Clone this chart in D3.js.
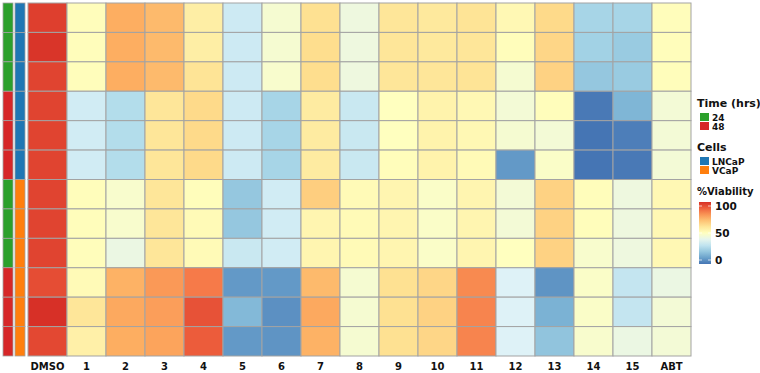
<!DOCTYPE html>
<html>
<head>
<meta charset="utf-8">
<script src="https://cdn.jsdelivr.net/npm/d3@7"></script>
<style>
  body { margin: 0; background: #fff; }
  svg { display: block; font-family: "DejaVu Sans", Verdana, sans-serif; }
</style>
</head>
<body>
<svg id="chart" width="760" height="373"></svg>
<script>
// Heatmap of %viability: rows = replicate wells (time x cell line), columns = treatments.

const columns = ["DMSO", "1", "2", "3", "4", "5", "6", "7", "8", "9", "10", "11", "12", "13", "14", "15", "ABT"];

// row annotations, top to bottom
const rowTime = ["24", "24", "24", "48", "48", "48", "24", "24", "24", "48", "48", "48"];
const rowCells = ["LNCaP", "LNCaP", "LNCaP", "LNCaP", "LNCaP", "LNCaP", "VCaP", "VCaP", "VCaP", "VCaP", "VCaP", "VCaP"];

// %viability per row, in column order
const lncap24 = [
  [97, 51, 75, 72, 57, 33, 46, 62, 43, 60, 59, 61, 53, 64, 24, 24, 51],
  [99, 51, 75, 72, 57, 33, 46, 63, 43, 60, 59, 60, 51, 65, 23, 21, 51],
  [96, 51, 75, 72, 61, 33, 47, 63, 43, 60, 60, 61, 46, 66, 20, 21, 51],
];
const lncap48 = [
  [96, 34, 27, 60, 64, 33, 24, 58, 32, 50, 55, 53, 45, 51, 1, 15, 45],
  [96, 34, 27, 60, 64, 33, 24, 58, 32, 50, 55, 53, 46, 45, 0, 2, 45],
  [96, 34, 27, 60, 64, 33, 24, 58, 32, 51, 55, 52, 8, 48, 0, 1, 45],
];
const vcap24 = [
  [96, 51, 47, 60, 51, 20, 34, 67, 52, 54, 48, 54, 45, 66, 51, 43, 53],
  [96, 51, 47, 60, 52, 20, 34, 54, 52, 54, 48, 54, 45, 66, 51, 43, 53],
  [96, 51, 42, 60, 52, 32, 34, 54, 52, 54, 48, 54, 50, 66, 47, 43, 53],
];
const vcap48 = [
  [94, 52, 74, 79, 85, 8, 8, 72, 46, 62, 65, 82, 37, 7, 48, 31, 42],
  [100, 60, 76, 78, 93, 16, 6, 76, 46, 62, 66, 83, 37, 14, 48, 31, 45],
  [95, 56, 75, 77, 91, 8, 7, 74, 46, 62, 65, 83, 37, 19, 47, 42, 45],
];

const timeLevels = ["24", "48"];
const cellLevels = ["LNCaP", "VCaP"];
const viabilityTicks = [0, 50, 100];

const rows = [...lncap24, ...lncap48, ...vcap24, ...vcap48];

const svg = d3.select("#chart");
const gridStroke = "#a3a3a3";

// RdYlBu (9 classes), blue = 0 ... red = 100
const rdylbu = ["#4575b4", "#74add1", "#abd9e9", "#e0f3f8", "#ffffbf", "#fee090", "#fdae61", "#f46d43", "#d73027"];
const color = d3.scaleLinear()
  .domain(d3.range(rdylbu.length).map((i) => (i * 100) / (rdylbu.length - 1)))
  .range(rdylbu)
  .clamp(true);

const timeColor = d3.scaleOrdinal().domain(timeLevels).range(["#2ca02c", "#d62728"]);
const cellColor = d3.scaleOrdinal().domain(cellLevels).range(["#1f77b4", "#ff7f0e"]);

const x = d3.scaleBand().domain(columns).range([28, 691]);
const y = d3.scaleBand().domain(d3.range(rows.length)).range([3, 356]);

// annotation strips
const annot = [
  { x0: 3, values: rowTime, scale: timeColor },
  { x0: 15, values: rowCells, scale: cellColor },
];
annot.forEach((a) => {
  svg.append("g").selectAll("rect").data(a.values).join("rect")
    .attr("x", a.x0).attr("width", 10)
    .attr("y", (d, i) => y(i)).attr("height", y.bandwidth())
    .attr("fill", (d) => a.scale(d))
    .attr("stroke", gridStroke).attr("stroke-width", 0.8);
});

// heatmap cells
const cells = rows.flatMap((r, i) => r.map((v, j) => ({ row: i, col: columns[j], v })));
svg.append("g").selectAll("rect").data(cells).join("rect")
  .attr("x", (d) => x(d.col)).attr("width", x.bandwidth())
  .attr("y", (d) => y(d.row)).attr("height", y.bandwidth())
  .attr("fill", (d) => color(d.v))
  .attr("stroke", gridStroke).attr("stroke-width", 1);

// column labels
svg.append("g").selectAll("text").data(columns).join("text")
  .attr("x", (d) => x(d) + x.bandwidth() / 2).attr("y", 370)
  .attr("text-anchor", "middle")
  .style("font-size", "10px").style("font-weight", "bold").style("fill", "#111")
  .text((d) => d);

// legends
const lg = svg.append("g").style("fill", "#111");

function discreteLegend(title, levels, scale, titleY) {
  lg.append("text").attr("x", 697).attr("y", titleY)
    .style("font-size", "11px").style("font-weight", "bold").text(title);
  levels.forEach((lv, i) => {
    const top = titleY + 6 + i * 9;
    lg.append("rect").attr("x", 700).attr("y", top).attr("width", 9).attr("height", 8)
      .attr("fill", scale(lv));
    lg.append("text").attr("x", 712).attr("y", top + 7.5)
      .style("font-size", "9px").style("font-weight", "bold").text(lv);
  });
}
discreteLegend("Time (hrs)", timeLevels, timeColor, 107);
discreteLegend("Cells", cellLevels, cellColor, 151);

// continuous %Viability bar
lg.append("text").attr("x", 697).attr("y", 195)
  .style("font-size", "10px").style("font-weight", "bold").text("%Viability");

const barY = d3.scaleLinear().domain([0, 100]).range([260, 206]);
const grad = svg.append("defs").append("linearGradient")
  .attr("id", "viab").attr("x1", 0).attr("y1", 1).attr("x2", 0).attr("y2", 0);
d3.range(0, 101, 10).forEach((v) => {
  grad.append("stop").attr("offset", `${v}%`).attr("stop-color", color(v));
});
lg.append("rect").attr("x", 699).attr("y", 202).attr("width", 12).attr("height", 62)
  .attr("fill", "url(#viab)");
viabilityTicks.forEach((t) => {
  lg.append("line").attr("x1", 699).attr("x2", 702).attr("y1", barY(t)).attr("y2", barY(t))
    .attr("stroke", "#fff").attr("stroke-opacity", 0.7);
  lg.append("line").attr("x1", 708).attr("x2", 711).attr("y1", barY(t)).attr("y2", barY(t))
    .attr("stroke", "#fff").attr("stroke-opacity", 0.7);
  lg.append("text").attr("x", 715).attr("y", barY(t)).attr("dy", "0.36em")
    .style("font-size", "10.5px").style("font-weight", "bold").text(t);
});
</script>
</body>
</html>
